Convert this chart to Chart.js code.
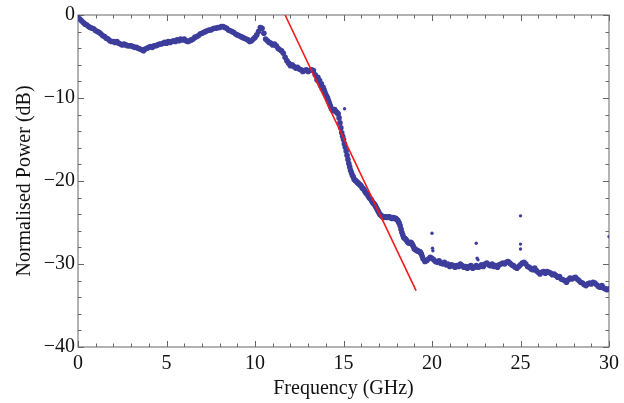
<!DOCTYPE html>
<html>
<head>
<meta charset="utf-8">
<script src="https://cdn.jsdelivr.net/npm/chart.js@4"></script>
<style>
  html, body { margin: 0; padding: 0; background: #fff; }
  #wrap { width: 624px; height: 403px; }
</style>
</head>
<body>
<div id="wrap"><canvas id="powerChart"></canvas></div>
<script>
/* measured spectrum, one value every 0.1 GHz from 0 to 30 GHz */
const freqStep = 0.1;
const powerDb = [
  -0.3, -0.5, -0.7, -0.9, -1.1, -1.2, -1.4, -1.5, -1.6, -1.7,
  -1.9, -2.0, -2.1, -2.3, -2.5, -2.6, -2.8, -2.9, -3.1, -3.2,
  -3.2, -3.3, -3.2, -3.4, -3.5, -3.6, -3.5, -3.6, -3.7, -3.7,
  -3.7, -3.8, -3.9, -3.9, -4.0, -4.1, -4.2, -4.3, -4.1, -4.0,
  -3.9, -3.8, -3.9, -3.7, -3.7, -3.6, -3.5, -3.5, -3.4, -3.3,
  -3.4, -3.2, -3.3, -3.2, -3.1, -3.2, -3.0, -3.1, -2.9, -3.0,
  -2.9, -3.1, -3.2, -3.1, -3.0, -2.9, -2.7, -2.6, -2.5, -2.3,
  -2.2, -2.1, -2.0, -1.9, -1.8, -1.8, -1.7, -1.6, -1.6, -1.5,
  -1.5, -1.4, -1.4, -1.5, -1.6, -1.8, -1.9, -2.0, -2.1, -2.3,
  -2.4, -2.5, -2.6, -2.7, -2.8, -2.9, -3.0, -3.2, -3.1, -2.9,
  -2.7, -2.4, -2.0, -1.5, -1.6, -2.2, -2.9, -3.1, -3.3, -3.4,
  -3.6, -3.5, -3.7, -4.0, -4.2, -4.3, -4.6, -5.1, -5.5, -5.8,
  -6.1, -6.0, -6.2, -6.4, -6.3, -6.5, -6.6, -6.8, -6.7, -6.6,
  -6.8, -6.7, -6.6, -6.7, -7.2, -7.8, -8.0, -8.5, -8.9, -9.0,
  -9.6, -10.0, -10.6, -11.2, -11.5, -11.4, -11.7, -11.9, -13.0, -14.2,
  -15.0, -15.9, -16.9, -17.9, -18.7, -19.3, -19.8, -20.0, -20.2, -20.4,
  -20.6, -20.9, -21.2, -21.5, -21.8, -22.1, -22.4, -22.7, -23.0, -23.4,
  -23.8, -24.1, -24.3, -24.4, -24.3, -24.4, -24.3, -24.5, -24.4, -24.5,
  -24.6, -24.9, -25.4, -26.2, -26.8, -27.0, -27.3, -27.5, -27.4, -27.7,
  -28.2, -28.3, -28.4, -28.5, -28.8, -29.4, -29.7, -29.6, -29.4, -29.2,
  -29.3, -29.5, -29.7, -29.8, -29.6, -29.9, -30.0, -29.8, -30.1, -30.0,
  -30.3, -30.1, -30.2, -30.4, -30.2, -30.3, -30.0, -30.2, -30.4, -30.3,
  -30.5, -30.3, -30.2, -30.5, -30.4, -30.2, -30.4, -30.3, -30.1, -30.3,
  -30.0, -29.9, -30.1, -30.2, -30.0, -30.3, -30.2, -30.4, -30.1, -30.0,
  -29.9, -30.0, -29.8, -29.7, -29.9, -30.1, -30.2, -30.4, -30.5, -30.3,
  -30.1, -29.9, -29.8, -30.0, -30.3, -30.4, -30.6, -30.7, -30.5, -30.8,
  -31.0, -31.2, -31.0, -30.9, -31.1, -30.9, -31.0, -31.1, -31.3, -31.2,
  -31.4, -31.6, -31.5, -31.8, -31.9, -32.0, -32.2, -31.9, -31.7, -31.8,
  -31.7, -31.6, -31.8, -32.0, -32.2, -32.3, -32.5, -32.6, -32.4, -32.3,
  -32.4, -32.2, -32.3, -32.5, -32.7, -32.8, -32.6, -32.9, -33.0, -33.1,
  -33.0
];

/* extra samples on the steep roll-off, every 0.1 GHz from 13.55 GHz */
const steepStart = 13.55;
const steepDb = [
  -7.5, -7.9, -8.3, -8.7, -9.3, -9.8, -10.3, -10.9, -11.4, -11.5,
  -11.6, -11.8, -12.4, -13.6, -14.6, -15.5, -16.4, -17.4, -18.3, -19.0,
  -19.5, -19.9, -20.1, -20.3, -20.5, -20.8, -21.0, -21.4, -21.6, -22.0,
  -22.2, -22.6, -22.8, -23.2, -23.6, -24.0, -24.2, -24.4, -24.3, -24.4,
  -24.3, -24.4, -24.5, -24.5, -24.5, -24.7, -25.1, -25.8, -26.5, -26.9,
  -27.1, -27.4, -27.5, -27.5, -27.9, -28.2, -28.4, -28.5, -28.6, -29.1
];

/* stray points off the main trace */
const strayFreq = [15.06, 20.0, 20.03, 20.05, 22.5, 22.55, 22.6, 25.0, 25.0, 25.0, 30.0];
const strayDb   = [-11.3, -26.3, -28.1, -28.4, -27.5, -29.3, -29.5, -24.2, -27.6, -28.2, -26.7];

/* red roll-off fit */
const fitFreq = [11.7, 19.1];
const fitDb = [0, -33.2];

const xTicks = [0, 5, 10, 15, 20, 25, 30];
const yTicks = [0, -10, -20, -30, -40];

const serif = 'Liberation Serif, Times New Roman, serif';
const traceColor = '#3d3d9c';

const points = powerDb.map((v, i) => ({ x: +(i * freqStep).toFixed(2), y: v }))
  .concat(steepDb.map((v, i) => ({ x: +(steepStart + i * freqStep).toFixed(2), y: v })));
const strays = strayFreq.map((f, i) => ({ x: f, y: strayDb[i] }));
const fit = fitFreq.map((f, i) => ({ x: f, y: fitDb[i] }));

/* Mathematica-like frame with inward ticks */
const frameTicks = {
  id: 'frameTicks',
  beforeDatasetsDraw(chart) {
    const { ctx, chartArea: a, scales: { x, y } } = chart;
    ctx.save();
    ctx.strokeStyle = '#666';
    ctx.lineWidth = 1;
    ctx.strokeRect(a.left, a.top, a.right - a.left, a.bottom - a.top);
    ctx.beginPath();
    for (let v = 0; v <= 30; v++) {
      const px = Math.round(x.getPixelForValue(v)) + 0.5;
      const len = v % 5 === 0 ? 6 : 3.5;
      ctx.moveTo(px, a.bottom); ctx.lineTo(px, a.bottom - len);
      ctx.moveTo(px, a.top); ctx.lineTo(px, a.top + len);
    }
    for (let v = 0; v >= -40; v -= 2) {
      const py = Math.round(y.getPixelForValue(v)) + 0.5;
      const len = v % 10 === 0 ? 6 : 3.5;
      ctx.moveTo(a.left, py); ctx.lineTo(a.left + len, py);
      ctx.moveTo(a.right, py); ctx.lineTo(a.right - len, py);
    }
    ctx.stroke();
    ctx.restore();
  }
};

const minus = v => String(v).replace('-', '\u2212');

new Chart(document.getElementById('powerChart'), {
  type: 'scatter',
  data: {
    datasets: [
      {
        data: fit,
        showLine: true,
        borderColor: '#f21a1a',
        borderWidth: 1.6,
        pointRadius: 0,
        order: 0
      },
      {
        data: points,
        pointRadius: 2.8,
        pointBorderWidth: 0,
        backgroundColor: traceColor,
        order: 1
      },
      {
        data: strays,
        pointRadius: 1.7,
        pointBorderWidth: 0,
        backgroundColor: traceColor,
        order: 2
      }
    ]
  },
  plugins: [frameTicks],
  options: {
    responsive: true,
    maintainAspectRatio: false,
    animation: false,
    layout: { padding: { left: 0, top: 15, right: 11, bottom: 0 }},
    plugins: { legend: { display: false }, tooltip: { enabled: false }},
    scales: {
      x: {
        type: 'linear', min: 0, max: 30,
        afterBuildTicks: s => { s.ticks = xTicks.map(v => ({ value: v })); },
        afterFit: s => { s.height = 56; },
        grid: { display: false, drawTicks: false },
        border: { display: false },
        ticks: { padding: 5, color: '#111', font: { family: serif, size: 20 }, callback: minus },
        title: { display: true, text: 'Frequency (GHz)', color: '#111',
                 font: { family: serif, size: 20 }, padding: { top: 0, bottom: 2 }}
      },
      y: {
        type: 'linear', min: -40, max: 0,
        afterBuildTicks: s => { s.ticks = yTicks.map(v => ({ value: v })); },
        afterFit: s => { s.width = 78; },
        grid: { display: false, drawTicks: false },
        border: { display: false },
        ticks: { padding: 3, color: '#111', font: { family: serif, size: 20 }, callback: minus },
        title: { display: true, text: 'Normalised Power (dB)', color: '#111',
                 font: { family: serif, size: 20 }, padding: { top: 13, bottom: 0 }}
      }
    }
  }
});
</script>
</body>
</html>
